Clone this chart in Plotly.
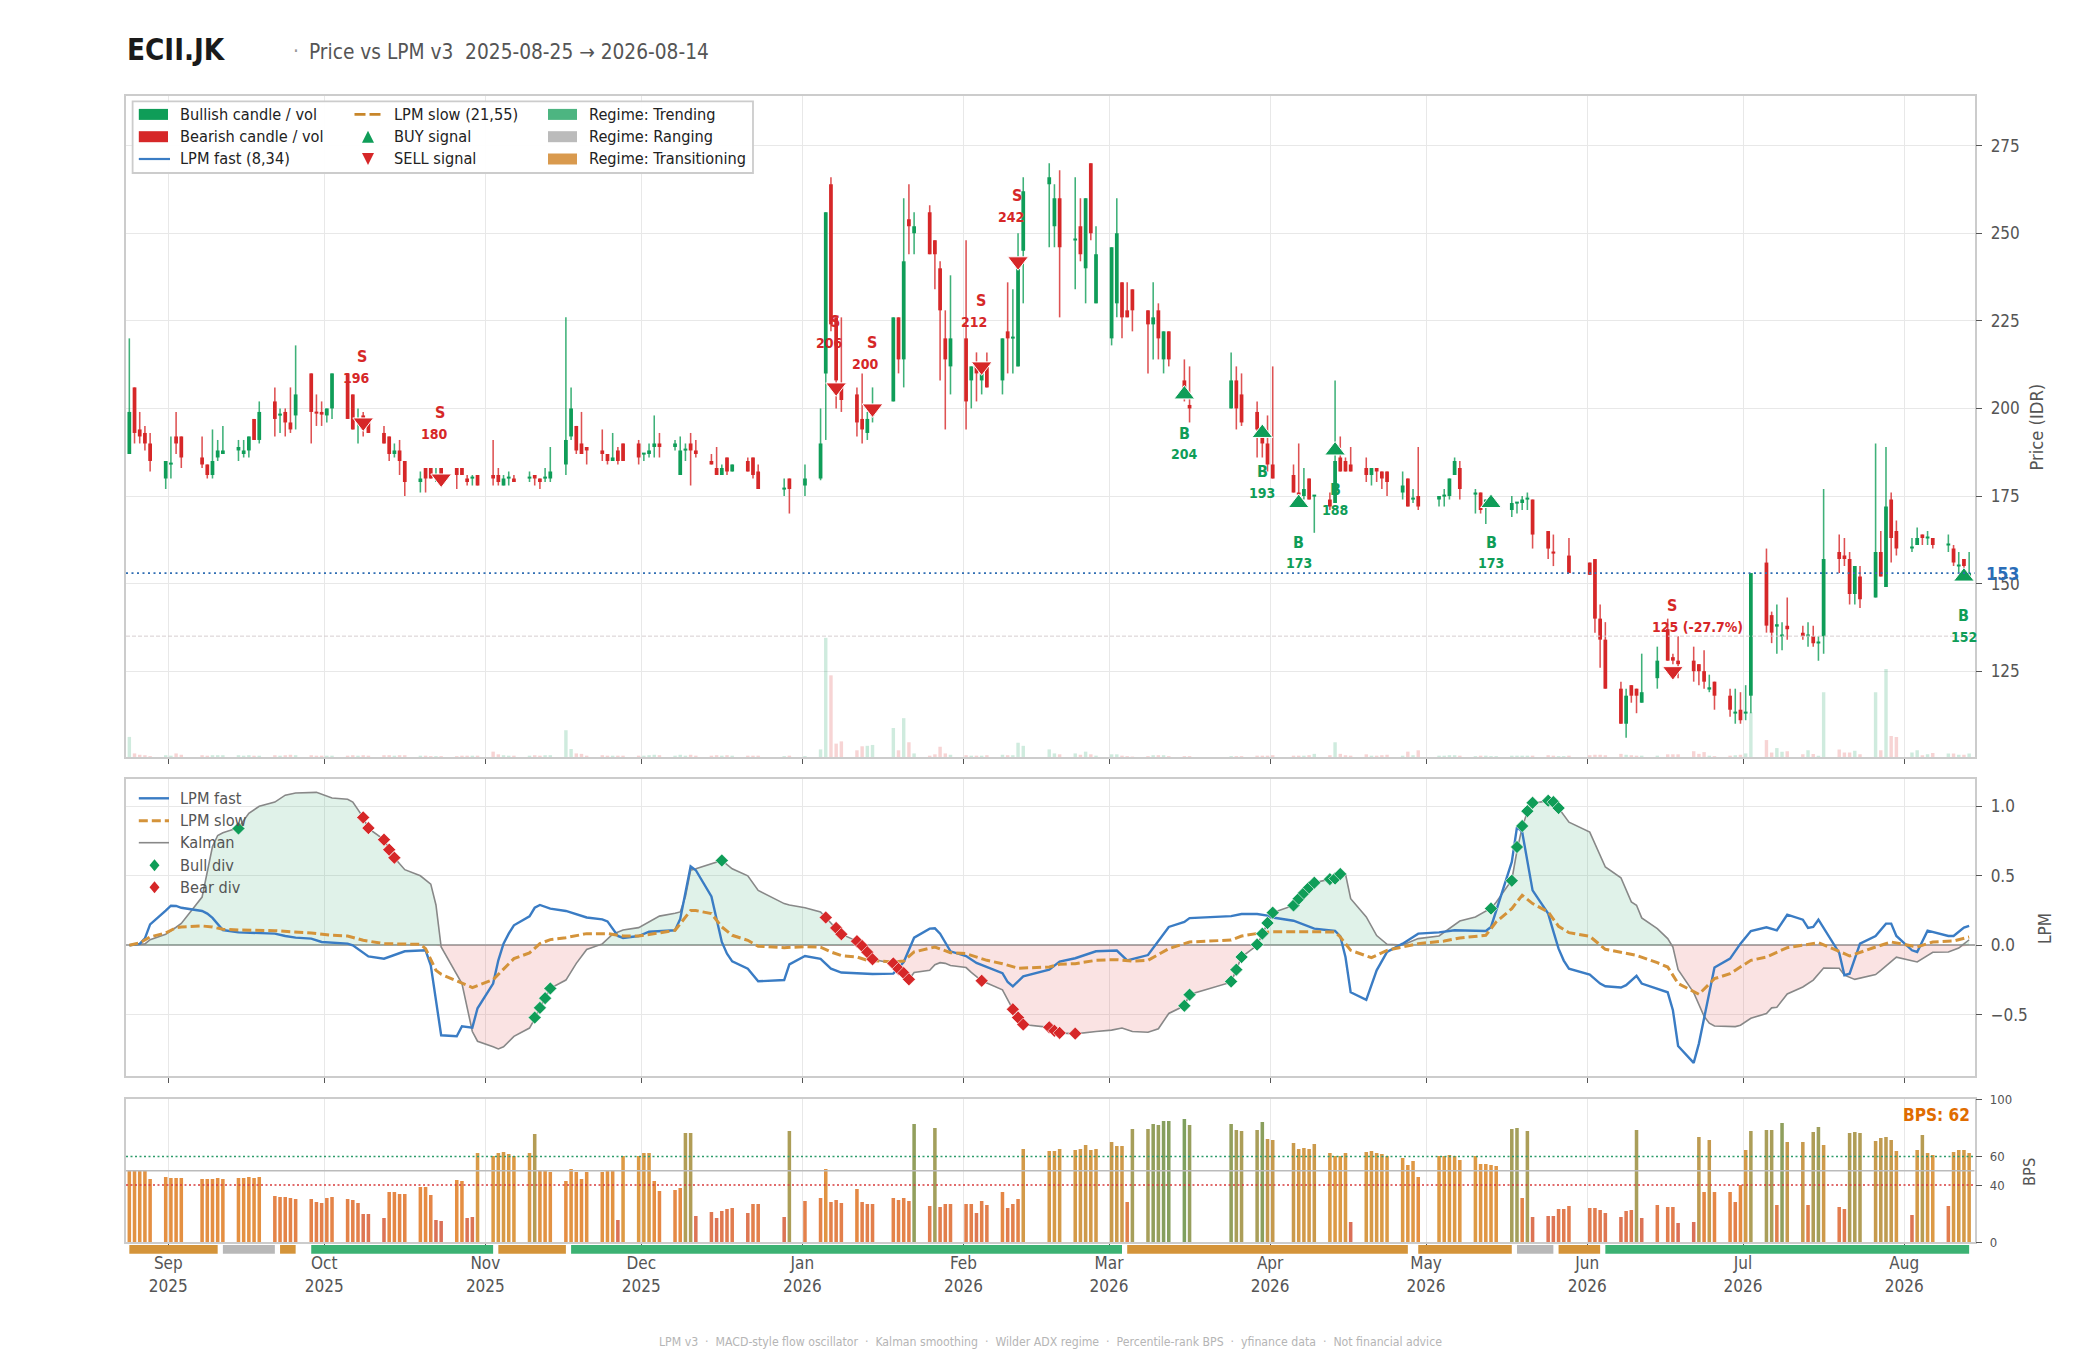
import numpy as np
import pandas as pd
import plotly.graph_objects as go

W, H = 2100, 1350
FONT = "DejaVu Sans Condensed"
GREEN = "#0f9d58"
RED = "#d62728"
BLUE = "#3a7cc4"
ORANGE = "#d4933a"
GRAY = "#888888"

# days the exchange was closed, everything else between start and end is a trading day
closed_days = ["2025-09-05", "2025-12-25", "2025-12-26", "2025-12-31", "2026-01-01", "2026-01-16",
               "2026-02-16", "2026-02-17", "2026-03-18", "2026-03-19", "2026-03-20", "2026-03-23",
               "2026-03-24", "2026-04-03", "2026-05-01", "2026-06-01", "2026-06-16"]

# one line per week
opens = [187,206,194,193,190, 180,184,192,192, 186,184,181,186,187, 188,187,188,197,191,
         202,198,199,196,198, 210,199,199,198,200, 210,204,196,198,196, 193,192,187,188,185,
         179,183,183,180,183, 183,183,180,180,181, 181,181,178,180,180, 180,181,180,180,180,
         184,192,195,190,189, 188,187,185,188,190, 190,187,187,189,190, 189,181,188,190,188,
         185,183,181,186,182, 185,186,182, 177,180,178, 180,210,264,226,206, 204,197,193,198,
         202,226,214,254,250, 256,248,240,220,212, 220,208,212,208,212, 208,222,220,212,245,
         264,252,260, 248,252,240,270,230, 220,230,236,228,234, 228,224,228,214,222, 208,201,
         200,208,204, 199,195,190,184, 181,176,175,180,175, 174,173,186,185,184, 183,181,183,182,182,
         176,180,174,175, 174,175,175,181,183, 175.5,176,172,173,173, 171,173,173,174,174,
         165,159,159,159,158, 156,157,140,134, 120,110,121,120,116, 123,137,129,128,
         128,127,125,120,122, 118,113,114,113,118, 156,141,138,135,138, 136,135,135,133,135,
         159,158,157,147,152, 146,159,149,174,165, 160,161,164,163,163, 161,160,155,157,152]
highs = [220,206,199,195,193, 185,192,199,192, 192,184,194,191,195, 191,191,192,197,202,
         206,200,200,206,218, 210,204,202,200,210, 210,204,200,199,197, 195,192,190,191,185,
         182,183,183,183,183, 183,183,181,181,181, 191,183,181,182,181, 182,181,180,183,189,
         226,206,195,199,189, 194,187,193,189,190, 191,187,190,198,193, 191,192,190,193,191,
         187,189,184,186,184, 186,186,184, 180,180,184, 200,256,266,226,226, 206,210,199,206,
         226,226,260,264,256, 258,248,242,228,238, 248,212,216,212,216, 220,236,234,250,266,
         270,264,268, 266,260,260,270,252, 246,260,236,236,234, 228,236,230,222,222, 214,212,
         216,212,210, 202,195,198,212, 184,190,183,180,175, 176,208,192,186,189, 186,183,183,182,182,
         182,180,177,189, 175,177,180,186,185, 177,176,174,173,173, 175,173,175,176,174,
         165,164,159,159,163, 156,157,144,139, 122,120,121,120,130, 132,140,130,135,
         132,127,131,124,122, 120,120,119,121,153, 160,142,144,139,146, 138,139,138,135,177,
         164,163,159,155,155, 190,165,189,176,168, 163,166,164,165,163, 164,161,159,157,159]
lows = [187,190,190,188,182, 177,180,187,183, 183,180,180,185,187, 185,186,186,191,190,
        192,193,192,193,194, 190,195,195,196,197, 197,194,190,192,193, 190,185,186,181,175,
        176,176,180,179,178, 177,181,178,178,178, 178,178,178,178,179, 179,178,177,179,179,
        181,191,187,187,184, 185,184,185,184,185, 184,185,186,186,186, 188,181,185,178,186,
        184,181,181,181,182, 182,180,177, 175,170,175, 179.5,191,222,200,199, 192,190,191,196,
        202,210,206,244,244, 244,234,208,194,204, 194,200,202,204,206, 204,210,210,212,230,
        246,246,226, 234,242,230,248,230, 218,226,220,226,222, 210,214,214,210,212, 202,196,
        200,194,195, 186,186,182,180, 176,175,174,174,164.5, 171,173,182,182,182, 179,178,179,177,175,
        174,172,173,171, 172,172,174,181,174, 170,170,167,173,173, 169,170,171,171,160,
        157,155,159,159,153, 152.5,136,126,120, 110,106,116,113,116, 120,128,127,123,
        122,121,120,119,114, 112,110,110,111,113, 136,133,130,131,134, 134,132,132,128,130,
        153,155,144,144,143, 146,152,149,156,158, 159,161,161,161,160, 159,155,153,153,152]
closes = [199,193,192,190,185, 185,184.3,190,186, 184,181,185,188,188, 189,188,192,191,199,
          197,198.3,196,194,204, 199,198.7,198.5,200,210, 197,194,197,194,193, 190,187,188,185,179,
          180,180,180,181,180, 181,181,179,180.4,178, 180,179,180,180.4,179, 180.4,180,179,180.4,182,
          191,200,188,187,188, 187,185,186,185,185, 186,187.3,188,190,189, 190,188,188.4,188,187,
          184,181,183,182,184, 182,181,177, 177.3,177,180, 190,256,224,208,202.4, 196,194,197,200,
          226,214,242,252,252, 244,244,228,214,220, 202,212,210,210,206, 220,220,220.4,242,262,
          266,260,246, 248.4,244,260,250,244, 246,250,226,226,228, 224,226,220,222,214, 204,200,
          208,200,196, 194,190,184,180, 176,175.6,177,174,175.3, 172,185,182,182,182, 181,183,182,180,179,
          178,172,174.4,172, 175,175.2,180,185,177, 176,171,174,173,173, 173,173.2,174,174.3,164,
          160,158.8,159,159,153, 152.5,140,134,120, 110,118,118,118,119, 128,128,128,127,
          125,125,122,120.4,118, 114,113.4,111,113.4,153, 138,136,138.4,135.4,137, 135,135.3,133,133.3,157,
          157,157,147,155,145.5, 159,152,172,163,160, 160.5,163,163,163.3,161, 161.3,156,155.3,155,153]
volumes = [45,8,5,4,2, 4,3,8,5, 4,3,4,4,4, 4,3,4,3,3, 4,3,4,5,4, 4,3,3,3,3, 3,4,3,4,3, 4,4,3,4,4,
           3,3,2,2,2, 2,3,3,3,3, 12,6,4,3,3, 3,4,3,4,4, 60,18,8,7,3, 4,3,3,3,3, 3,3,4,5,4, 3,5,3,5,3,
           3,4,3,4,3, 3,3,3, 2,3,2, 17,267,183,30,35, 15,24,25,27, 65,15,87,33,8, 3,6,23,8,5,
           4,3,3,3,4, 5,4,4,32,25, 17,8,6, 8,5,12,6,3, 6,6,3,2,1, 2,4,4,4,2, 2,2, 2,2,2, 3,3,3,4,
           3,3,3,4,7, 4,33,7,4,3, 6,3,3,4,5, 3,12,4,15, 3,3,4,4,3, 2,3,3,2,2, 3,3,3,3,3,
           4,3,2,2,3, 4,5,5,4, 7,5,4,3,3, 3,6,6,6, 13,7,11,3,2, 3,4,5,8,100, 38,10,20,12,13,
           6,15,7,3,145, 17,10,10,14,6, 145,15,197,47,45, 10,15,4,6,9, 8,8,5,5,8]
bps = [50.6,50.6,50.6,50.6,44.3, 45.7,45,45,45, 44.3,44.3,44.3,45,44.3, 45,45,45.7,45,45.7,
       32.4,31.7,31.7,31,30.3, 30.3,28.2,27.5,31,31.7, 30.3,29.6,27.5,19.8,19.8, 17,35.2,35.2,33.8,33.8,
       38.7,38.7,33.1,15.6,14.9, 43.6,42.9,17,17.7,62.5, 60.4,62.5,63.2,61.8,60.4, 62.5,75.8,50.6,49.9,49.2,
       42.9,51.3,49.2,44.3,49.2, 49.2,49.9,49.9,15.6,60.4, 60.4,62.5,62.5,42.9,35.9, 36.6,38,76.5,76.5,18.4,
       21.2,17,21.9,23.3,24, 20.5,26.8,26.8, 17.7,77.9,28.9, 31,51.3,28.2,29.6,27.5, 37.3,28.2,26.8,26.8,
       31,29.6,31,28.9,82.8, 25.4,80,24.7,26.8,26.8, 26.8,26.8,20.5,28.9,26.1, 35.2,24,26.8,30.3,65.3,
       63.9,63.9,65.3, 64.6,65.3,68,64.6,65.3, 70.2,67.4,67.4,28.2,79.3, 79.3,82.8,82,84.8,84.8, 86.2,82,
       82.8,78.6,77.9, 78.6,84.1,72.3,71.6, 69.5,65.3,66,65.3,68.8, 62.5,60.4,60.4,62.5,14.2, 63.2,63.9,62.5,61.8,60.4,
       59,54.1,56.9,45.7, 60.4,60.4,61,60.4,57.6, 60.4,54.8,54.8,54.1,53.4, 79.3,80,31,77.9,17.7,
       18.4,18.4,23.3,23.3,25.4, 24,24,22.6,20.5, 17.7,21.9,22.6,78.6,17, 26.1,24.7,24.7,13.5,
       14.2,73.7,35.2,71.6,35.2, 35.2,28.2,40.1,64.6,77.9, 78.6,78.6,26.1,83.4,70.2, 70.2,26.1,77.2,80.7,68,
       24.7,23.3,76.5,77.2,76.5, 70.9,73,73.7,71.6,63.9, 19.1,64.6,75.1,62.5,61, 25.4,63.2,64.6,64.6,62.5]

fast_dates = ["2025-08-25","2025-08-27","2025-08-28","2025-08-29","2025-09-01","2025-09-02","2025-09-03","2025-09-04","2025-09-08","2025-09-09","2025-09-10","2025-09-11","2025-09-12","2025-09-15","2025-09-19","2025-09-22","2025-09-24","2025-09-26","2025-09-29","2025-10-01","2025-10-06","2025-10-07","2025-10-10","2025-10-13","2025-10-17","2025-10-20","2025-10-21","2025-10-22","2025-10-23","2025-10-24","2025-10-27","2025-10-28","2025-10-30","2025-10-31","2025-11-03","2025-11-04","2025-11-05","2025-11-06","2025-11-07","2025-11-10","2025-11-11","2025-11-12","2025-11-14","2025-11-17","2025-11-21","2025-11-24","2025-11-25","2025-11-27","2025-11-28","2025-12-01","2025-12-03","2025-12-08","2025-12-09","2025-12-11","2025-12-12","2025-12-15","2025-12-17","2025-12-18","2025-12-19","2025-12-22","2025-12-24","2025-12-29","2025-12-30",
              "2026-01-02","2026-01-05","2026-01-07","2026-01-09","2026-01-15","2026-01-19","2026-01-21","2026-01-23","2026-01-26","2026-01-27","2026-01-28","2026-01-30","2026-02-02","2026-02-04","2026-02-09","2026-02-10","2026-02-11","2026-02-13","2026-02-18","2026-02-20","2026-02-23","2026-02-27","2026-03-03","2026-03-05","2026-03-09","2026-03-13","2026-03-16","2026-03-17","2026-03-25","2026-03-27","2026-03-30","2026-04-01","2026-04-02","2026-04-06","2026-04-09","2026-04-10","2026-04-14","2026-04-15","2026-04-16","2026-04-17","2026-04-20","2026-04-22","2026-04-24","2026-04-27","2026-04-30","2026-05-04","2026-05-07",
              "2026-05-11","2026-05-13","2026-05-14","2026-05-15","2026-05-18","2026-05-19","2026-05-20","2026-05-22","2026-05-25","2026-05-26","2026-05-27","2026-05-28","2026-05-29","2026-06-02","2026-06-04","2026-06-05","2026-06-08","2026-06-09","2026-06-11","2026-06-12","2026-06-17","2026-06-18","2026-06-19","2026-06-22","2026-06-23","2026-06-26","2026-06-29","2026-07-01","2026-07-03","2026-07-06","2026-07-08","2026-07-10","2026-07-13","2026-07-14","2026-07-15","2026-07-16","2026-07-20","2026-07-21","2026-07-22","2026-07-24","2026-07-27","2026-07-29","2026-07-30","2026-07-31","2026-08-03","2026-08-04","2026-08-06","2026-08-10","2026-08-11","2026-08-13","2026-08-14"]
fast_vals = [0,.01,.05,.15,.25,.285,.283,.27,.247,.228,.197,.156,.11,.093,.09,.084,.067,.055,.048,.024,.012,0,-.08,-.096,-.043,-.034,-.036,-.144,-.395,-.647,-.654,-.582,-.592,-.453,-.275,-.108,.012,.084,.144,.208,.27,.29,.264,.247,.2,.187,.172,.067,.053,.067,.098,.108,.19,.568,.54,.352,.024,-.06,-.115,-.168,-.259,-.25,-.137,
             -.077,-.098,-.168,-.196,-.206,-.204,-.12,.055,.12,.122,.084,-.043,-.077,-.127,-.2,-.264,-.295,-.223,-.175,-.117,-.093,-.043,-.038,-.108,-.07,.132,.168,.196,.21,.225,.225,.213,.2,.177,.132,.12,.103,.065,-.084,-.338,-.393,-.18,-.048,.012,.084,.093,.108,
             .105,.103,.132,.25,.6,.85,.815,.395,.228,.1,-.024,-.11,-.168,-.21,-.275,-.295,-.304,-.287,-.22,-.275,-.338,-.467,-.724,-.846,-.707,-.16,-.096,.012,.103,.13,.108,.22,.184,.125,.132,.184,-.055,-.215,-.204,.012,.067,.156,.156,.067,-.036,-.048,.105,.067,.067,.127,.14]

slow_dates = ["2025-08-25","2025-08-27","2025-08-29","2025-09-01","2025-09-03","2025-09-04","2025-09-08","2025-09-10","2025-09-12","2025-09-15","2025-09-22","2025-09-29","2025-10-03","2025-10-06","2025-10-09","2025-10-13","2025-10-20","2025-10-21","2025-10-23","2025-10-24","2025-10-27","2025-10-30","2025-11-03","2025-11-05","2025-11-07","2025-11-10","2025-11-12","2025-11-14","2025-11-17","2025-11-21","2025-11-25","2025-11-28","2025-12-01","2025-12-05","2025-12-08","2025-12-11","2025-12-12","2025-12-15","2025-12-17","2025-12-19","2025-12-22","2025-12-24","2025-12-29",
              "2026-01-02","2026-01-05","2026-01-07","2026-01-09","2026-01-12","2026-01-14","2026-01-19","2026-01-21","2026-01-23","2026-01-27","2026-01-30","2026-02-02","2026-02-06","2026-02-09","2026-02-12","2026-02-18","2026-02-20","2026-02-23","2026-02-27","2026-03-03","2026-03-06","2026-03-09","2026-03-13","2026-03-17","2026-03-25","2026-03-27","2026-03-31","2026-04-02","2026-04-07","2026-04-14","2026-04-15","2026-04-17","2026-04-21","2026-04-24","2026-04-30","2026-05-05","2026-05-08","2026-05-13","2026-05-15","2026-05-18","2026-05-20","2026-05-22","2026-05-25","2026-05-27","2026-05-29","2026-06-02","2026-06-05","2026-06-08","2026-06-11","2026-06-15","2026-06-17","2026-06-19","2026-06-23","2026-06-26","2026-06-29","2026-07-03","2026-07-06","2026-07-10","2026-07-16","2026-07-21","2026-07-22","2026-07-27","2026-07-30","2026-08-04","2026-08-07","2026-08-11","2026-08-14"]
slow_vals = [0,.017,.06,.089,.127,.132,.139,.132,.115,.11,.105,.089,.072,.067,.036,.012,.007,-.024,-.18,-.208,-.256,-.304,-.247,-.168,-.096,-.055,.012,.041,.055,.084,.084,.067,.067,.089,.108,.25,.25,.228,.132,.072,.036,-.007,-.017,
             -.01,-.014,-.048,-.074,-.084,-.108,-.12,-.113,-.048,-.012,-.053,-.06,-.108,-.132,-.165,-.156,-.137,-.132,-.108,-.103,-.113,-.108,-.024,.024,.038,.067,.091,.098,.098,.096,.06,-.036,-.089,-.036,.012,.031,.053,.072,.168,.264,.36,.3,.24,.137,.091,.065,-.029,-.048,-.072,-.125,-.156,-.275,-.352,-.24,-.204,-.108,-.084,-.017,.019,-.06,-.077,-.012,.024,-.012,.024,.031,.06]

kalman_dates = ["2025-08-25","2025-08-28","2025-08-29","2025-09-01","2025-09-03","2025-09-04","2025-09-08","2025-09-09","2025-09-10","2025-09-11","2025-09-12","2025-09-15","2025-09-16","2025-09-17","2025-09-19","2025-09-22","2025-09-24","2025-09-26","2025-09-30","2025-10-03","2025-10-06","2025-10-07","2025-10-09","2025-10-10","2025-10-13","2025-10-14","2025-10-15","2025-10-17","2025-10-20","2025-10-22","2025-10-23","2025-10-24","2025-10-27","2025-10-28","2025-10-30","2025-10-31","2025-11-03","2025-11-04","2025-11-05","2025-11-07","2025-11-10","2025-11-11","2025-11-12","2025-11-13","2025-11-14","2025-11-17","2025-11-19","2025-11-21","2025-11-24","2025-11-26","2025-11-28","2025-12-01","2025-12-05","2025-12-08","2025-12-09","2025-12-10","2025-12-11","2025-12-12","2025-12-17","2025-12-19","2025-12-22","2025-12-24","2025-12-29","2025-12-30",
                "2026-01-02","2026-01-05","2026-01-06","2026-01-08","2026-01-09","2026-01-12","2026-01-13","2026-01-14","2026-01-15","2026-01-19","2026-01-20","2026-01-21","2026-01-22","2026-01-23","2026-01-26","2026-01-27","2026-01-28","2026-01-29","2026-01-30","2026-02-02","2026-02-03","2026-02-05","2026-02-09","2026-02-11","2026-02-12","2026-02-13","2026-02-18","2026-02-19","2026-02-20","2026-02-23","2026-02-27","2026-03-02","2026-03-04","2026-03-05","2026-03-06","2026-03-09","2026-03-10","2026-03-11","2026-03-13","2026-03-16","2026-03-17","2026-03-25","2026-03-26","2026-03-27","2026-03-30","2026-03-31","2026-04-01","2026-04-02","2026-04-06","2026-04-07","2026-04-08","2026-04-09","2026-04-10","2026-04-13","2026-04-14","2026-04-15","2026-04-16","2026-04-17","2026-04-20","2026-04-22","2026-04-24","2026-04-27","2026-04-30","2026-05-04","2026-05-08",
                "2026-05-11","2026-05-13","2026-05-14","2026-05-15","2026-05-18","2026-05-19","2026-05-20","2026-05-21","2026-05-22","2026-05-25","2026-05-26","2026-05-27","2026-05-29","2026-06-02","2026-06-05","2026-06-08","2026-06-10","2026-06-11","2026-06-12","2026-06-15","2026-06-17","2026-06-18","2026-06-19","2026-06-22","2026-06-24","2026-06-25","2026-06-26","2026-06-30","2026-07-01","2026-07-03","2026-07-06","2026-07-07","2026-07-08","2026-07-10","2026-07-13","2026-07-15","2026-07-17","2026-07-20","2026-07-21","2026-07-23","2026-07-27","2026-07-28","2026-07-31","2026-08-04","2026-08-07","2026-08-10","2026-08-12","2026-08-14"]
kalman_vals = [0,.01,.04,.08,.13,.157,.347,.54,.71,.79,.81,.846,.9,.95,1.0,1.03,1.08,1.095,1.1,1.06,1.05,1.03,.92,.84,.76,.69,.63,.544,.5,.44,.29,-.012,-.205,-.275,-.62,-.69,-.73,-.745,-.73,-.655,-.595,-.53,-.45,-.38,-.31,-.25,-.13,-.03,.01,.08,.11,.127,.21,.23,.24,.35,.54,.55,.61,.55,.5,.395,.3,.29,
               .27,.24,.2,.125,.08,.03,-.005,-.05,-.1,-.13,-.17,-.2,-.245,-.195,-.18,-.14,-.125,-.13,-.145,-.16,-.195,-.255,-.32,-.46,-.52,-.57,-.59,-.62,-.63,-.637,-.62,-.61,-.595,-.61,-.62,-.625,-.61,-.6,-.49,-.435,-.353,-.265,-.175,-.084,0,.084,.16,.235,.287,.335,.376,.416,.45,.476,.48,.513,.513,.335,.204,.07,.007,.002,.048,.067,.175,
               .204,.25,.267,.31,.47,.68,.85,.96,1.02,1.04,1.02,.987,.886,.814,.563,.486,.312,.288,.197,.12,.048,-.012,-.175,-.34,-.51,-.56,-.58,-.585,-.575,-.525,-.49,-.45,-.445,-.35,-.3,-.25,-.163,-.165,-.215,-.245,-.21,-.18,-.085,-.12,-.05,-.048,-.02,.04]

bull_div_dates = ["2025-09-15","2025-11-11","2025-11-12","2025-11-13","2025-11-14","2025-12-17","2026-03-16","2026-03-17","2026-03-25","2026-03-26","2026-03-27","2026-03-30","2026-03-31","2026-04-01","2026-04-02","2026-04-06","2026-04-07","2026-04-08","2026-04-09","2026-04-10","2026-04-13","2026-04-14","2026-04-15","2026-05-14","2026-05-18","2026-05-19","2026-05-20","2026-05-21","2026-05-22","2026-05-25","2026-05-26","2026-05-27"]
bull_div_vals = [.84,-.52,-.45,-.38,-.31,.61,-.435,-.355,-.26,-.175,-.084,.005,.084,.16,.235,.287,.335,.376,.416,.45,.476,.48,.513,.264,.465,.707,.858,.965,1.025,1.04,1.03,.987]
bear_div_dates = ["2025-10-09","2025-10-10","2025-10-13","2025-10-14","2025-10-15","2026-01-06","2026-01-08","2026-01-09","2026-01-12","2026-01-13","2026-01-14","2026-01-15","2026-01-19","2026-01-20","2026-01-21","2026-01-22","2026-02-05","2026-02-11","2026-02-12","2026-02-13","2026-02-18","2026-02-19","2026-02-20","2026-02-23"]
bear_div_vals = [.92,.843,.76,.688,.63,.2,.125,.08,.03,-.005,-.05,-.1,-.13,-.17,-.2,-.245,-.255,-.46,-.52,-.57,-.59,-.615,-.63,-.635]

sell_dates = ["2025-10-09","2025-10-24","2026-01-08","2026-01-15","2026-02-05","2026-02-12","2026-06-18"]
sell_prices = [196,180,206,200,212,242,125]
sell_labels = ["196","180","206","200","212","242","125 (-27.7%)"]
buy_dates = ["2026-03-16","2026-03-31","2026-04-07","2026-04-14","2026-05-14","2026-08-13"]
buy_prices = [204,193,173,188,173,152]

regime_starts = ["2025-08-25","2025-09-12","2025-09-23","2025-09-29","2025-11-04","2025-11-18","2026-03-05","2026-04-30","2026-05-19","2026-05-27","2026-06-05"]
regime_ends = ["2025-09-11","2025-09-22","2025-09-26","2025-11-03","2025-11-17","2026-03-04","2026-04-28","2026-05-18","2026-05-26","2026-06-04","2026-08-14"]
regime_names = ["Transitioning","Ranging","Transitioning","Trending","Transitioning","Trending","Transitioning","Transitioning","Ranging","Transitioning","Trending"]
regime_colors = {"Trending": "#3cb273", "Ranging": "#b8b8b8", "Transitioning": "#d4943a"}

month_ticks = ["2025-09-01","2025-10-01","2025-11-01","2025-12-01","2026-01-01","2026-02-01","2026-03-01","2026-04-01","2026-05-01","2026-06-01","2026-07-01","2026-08-01"]
month_labels = ["Sep<br>2025","Oct<br>2025","Nov<br>2025","Dec<br>2025","Jan<br>2026","Feb<br>2026","Mar<br>2026","Apr<br>2026","May<br>2026","Jun<br>2026","Jul<br>2026","Aug<br>2026"]
price_ticks = [125,150,175,200,225,250,275]
lpm_ticks = [-0.5,0,0.5,1.0]
bps_ticks = [0,40,60,100]
last_price = 153
stop_level = 135
last_bps = 62


def px(x):
    return x / W


def py(y):
    return 1 - y / H


def shifted(day_list):
    # candles sit half a day left of the month ticks, local midnight in the source data
    out = pd.to_datetime(day_list) - pd.Timedelta(hours=12)
    return [d.strftime("%Y-%m-%d %H:%M") for d in out]


trading_days = pd.bdate_range("2025-08-25", "2026-08-14")
trading_days = trading_days[~trading_days.isin(pd.to_datetime(closed_days))]
x_days = shifted(trading_days)
x_arr = np.array(x_days)
o, h, l, c = [np.array(a, dtype=float) for a in (opens, highs, lows, closes)]
up = (c >= o) & (h > l)
down = (c < o) & (h > l)
body_low = np.minimum(o, c)
body_height = np.maximum(np.abs(c - o), 0.35)

DAY_MS = 86400000
fig = go.Figure()

# volume behind everything
vol_colors = ["rgba(15,157,88,0.2)" if u else "rgba(214,39,40,0.2)" for u in (c >= o)]
fig.add_trace(go.Bar(x=x_days, y=volumes, width=0.66 * DAY_MS, marker=dict(color=vol_colors, line_width=0),
                     xaxis="x", yaxis="y4", showlegend=False))

for mask, color, wick in [(up, GREEN, "rgba(15,157,88,0.8)"), (down, RED, "rgba(214,39,40,0.8)")]:
    fig.add_trace(go.Bar(x=x_arr[mask].tolist(), y=(h - l)[mask].tolist(), base=l[mask].tolist(),
                         width=0.3 * DAY_MS, marker=dict(color=wick, line_width=0), xaxis="x", yaxis="y", showlegend=False))
    fig.add_trace(go.Bar(x=x_arr[mask].tolist(), y=body_height[mask].tolist(), base=body_low[mask].tolist(),
                         width=0.72 * DAY_MS, marker=dict(color=color, line_width=0), xaxis="x", yaxis="y", showlegend=False))

fig.add_trace(go.Scatter(x=shifted(buy_dates), y=buy_prices, mode="markers", xaxis="x", yaxis="y", showlegend=False,
                         marker=dict(symbol="triangle-up", size=18, color=GREEN, line=dict(color="white", width=1))))
fig.add_trace(go.Scatter(x=shifted(sell_dates), y=sell_prices, mode="markers", xaxis="x", yaxis="y", showlegend=False,
                         marker=dict(symbol="triangle-down", size=18, color=RED, line=dict(color="white", width=1))))

# LPM panel
k = np.array(kalman_vals)
x_kal = shifted(kalman_dates)
fig.add_trace(go.Scatter(x=x_kal, y=np.maximum(k, 0).tolist(), mode="lines", line=dict(width=0), fill="tozeroy",
                         fillcolor="rgba(15,157,88,0.13)", xaxis="x2", yaxis="y2", showlegend=False))
fig.add_trace(go.Scatter(x=x_kal, y=np.minimum(k, 0).tolist(), mode="lines", line=dict(width=0), fill="tozeroy",
                         fillcolor="rgba(214,39,40,0.13)", xaxis="x2", yaxis="y2", showlegend=False))
fig.add_trace(go.Scatter(x=x_kal, y=kalman_vals, mode="lines", line=dict(color=GRAY, width=1.6), xaxis="x2", yaxis="y2", showlegend=False))
fig.add_trace(go.Scatter(x=shifted(fast_dates), y=fast_vals, mode="lines", line=dict(color=BLUE, width=2.4), xaxis="x2", yaxis="y2", showlegend=False))
fig.add_trace(go.Scatter(x=shifted(slow_dates), y=slow_vals, mode="lines", line=dict(color=ORANGE, width=3, dash="9px,4px"), xaxis="x2", yaxis="y2", showlegend=False))
fig.add_trace(go.Scatter(x=shifted(bull_div_dates), y=bull_div_vals, mode="markers", xaxis="x2", yaxis="y2", showlegend=False,
                         marker=dict(symbol="diamond", size=10, color=GREEN, line=dict(color="white", width=0.6))))
fig.add_trace(go.Scatter(x=shifted(bear_div_dates), y=bear_div_vals, mode="markers", xaxis="x2", yaxis="y2", showlegend=False,
                         marker=dict(symbol="diamond", size=10, color=RED, line=dict(color="white", width=0.6))))

# BPS panel
fig.add_trace(go.Bar(x=x_days, y=bps, width=0.68 * DAY_MS, xaxis="x3", yaxis="y3", showlegend=False,
                     marker=dict(color=bps, cmin=0, cmax=100, line_width=0,
                                 colorscale=[[0, "#d9634f"], [.15, "#da7058"], [.25, "#e27d4e"], [.4, "#e68c41"],
                                             [.6, "#de9a45"], [.72, "#c49a4e"], [.8, "#a39f5c"], [.86, "#7f9f5e"], [1, "#5aa05e"]])))

shapes = []
annotations = []


def add_text(x, y, text, size, color, anchor="left", bold=False, angle=0):
    if bold:
        text = "<b>" + text + "</b>"
    # annotations carry a little padding of their own
    nudge = {"left": -2.5, "right": 2.5, "center": 0}[anchor]
    annotations.append(dict(x=px(x + nudge), y=py(y), xref="paper", yref="paper", text=text, showarrow=False, xanchor=anchor,
                            yanchor="middle", textangle=angle, font=dict(family=FONT, size=size, color=color)))


def level_line(yval, yref, color, width, dash):
    shapes.append(dict(type="line", xref="x domain", yref=yref, x0=0, x1=1, y0=yval, y1=yval,
                       line=dict(color=color, width=width, dash=dash)))


level_line(last_price, "y", "#2f6db3", 1.8, "2px,3.5px")
level_line(stop_level, "y", "#d6ced0", 1, "4px,2px")
level_line(50, "y3", "#bbbbbb", 1.4, "solid")
level_line(60, "y3", "#2e9c6b", 1.5, "2px,2.5px")
level_line(40, "y3", "#d83b3b", 1.5, "2px,2.5px")

# regime strip under the BPS panel
for start, end, name in zip(shifted(regime_starts), shifted(regime_ends), regime_names):
    shapes.append(dict(type="rect", xref="x3", yref="paper", x0=start, x1=end, y0=py(1253.7), y1=py(1245),
                       fillcolor=regime_colors[name], line_width=0))

# signal labels
for d, p, lab in zip(shifted(sell_dates), sell_prices, sell_labels):
    annotations.append(dict(x=d, y=p, xref="x", yref="y", text="<b>S</b>", showarrow=False, yshift=65.6, xshift=-1,
                            font=dict(family=FONT, size=16, color=RED)))
    annotations.append(dict(x=d, y=p, xref="x", yref="y", text="<b>" + lab + "</b>", showarrow=False, yshift=44, xshift=-22.5,
                            xanchor="left", font=dict(family=FONT, size=14, color=RED)))
for d, p in zip(shifted(buy_dates), buy_prices):
    annotations.append(dict(x=d, y=p, xref="x", yref="y", text="<b>B</b>", showarrow=False, yshift=-39,
                            font=dict(family=FONT, size=16, color=GREEN)))
    annotations.append(dict(x=d, y=p, xref="x", yref="y", text="<b>%d</b>" % p, showarrow=False, yshift=-60,
                            font=dict(family=FONT, size=14, color=GREEN)))

# legend of the price panel, drawn by hand for the three column layout
shapes.append(dict(type="rect", xref="paper", yref="paper", x0=px(132.6), x1=px(753), y0=py(173), y1=py(101.4),
                   fillcolor="rgba(255,255,255,0.92)", line=dict(color="#cccccc", width=1.8)))
rows = [114.4, 136.7, 159]


def swatch(x0, x1, yc, color):
    shapes.append(dict(type="rect", xref="paper", yref="paper", x0=px(x0), x1=px(x1), y0=py(yc + 5.5), y1=py(yc - 5.5),
                       fillcolor=color, line_width=0))


def key_line(x0, x1, yc, color, width, dash="solid"):
    shapes.append(dict(type="line", xref="paper", yref="paper", x0=px(x0), x1=px(x1), y0=py(yc), y1=py(yc),
                       line=dict(color=color, width=width, dash=dash)))


def key_poly(points, color):
    path = "M " + " L ".join("%.5f,%.5f" % (px(a), py(b)) for a, b in points) + " Z"
    shapes.append(dict(type="path", xref="paper", yref="paper", path=path, fillcolor=color, line_width=0))


LEG = 16.2
swatch(138.8, 168, rows[0], GREEN)
swatch(138.8, 168, rows[1], RED)
key_line(138.8, 170, rows[2], BLUE, 2.2)
add_text(180.4, rows[0], "Bullish candle / vol", LEG, "#222222")
add_text(180.4, rows[1], "Bearish candle / vol", LEG, "#222222")
add_text(180.4, rows[2], "LPM fast (8,34)", LEG, "#222222")

key_line(354.5, 383, rows[0], "#c8862a", 2.6, "11px,4px")
key_poly([(368, rows[1] - 6), (362, rows[1] + 6), (374, rows[1] + 6)], GREEN)
key_poly([(368, rows[2] + 6), (362, rows[2] - 6), (374, rows[2] - 6)], RED)
add_text(394.6, rows[0], "LPM slow (21,55)", LEG, "#222222")
add_text(394.6, rows[1], "BUY signal", LEG, "#222222")
add_text(394.6, rows[2], "SELL signal", LEG, "#222222")

swatch(548, 577, rows[0], "#4db581")
swatch(548, 577, rows[1], "#bbbbbb")
swatch(548, 577, rows[2], "#d99a4e")
add_text(589.7, rows[0], "Regime: Trending", LEG, "#222222")
add_text(589.7, rows[1], "Regime: Ranging", LEG, "#222222")
add_text(589.7, rows[2], "Regime: Transitioning", LEG, "#222222")

# legend of the LPM panel, no frame
lpm_rows = [798.3, 820.7, 842.7, 865.3, 887.3]
key_line(138.8, 169, lpm_rows[0], BLUE, 2.4)
key_line(138.8, 169, lpm_rows[1], ORANGE, 3, "9px,4px")
key_line(138.8, 169, lpm_rows[2], GRAY, 1.6)
key_poly([(154.5, lpm_rows[3] - 6), (149.5, lpm_rows[3]), (154.5, lpm_rows[3] + 6), (159.5, lpm_rows[3])], GREEN)
key_poly([(154.5, lpm_rows[4] - 6), (149.5, lpm_rows[4]), (154.5, lpm_rows[4] + 6), (159.5, lpm_rows[4])], RED)
for yc, name in zip(lpm_rows, ["LPM fast", "LPM slow", "Kalman", "Bull div", "Bear div"]):
    add_text(180.4, yc, name, LEG, "#555555")

# titles and side labels
add_text(127, 50, "ECII.JK", 29.3, "#1a1a1a", bold=True)
add_text(293, 51, "·", 20.7, "#999999")
add_text(309, 51.7, "Price vs LPM v3  2025-08-25 → 2026-08-14", 20.7, "#555555")
add_text(2002, 574, "153", 17.8, "#2a6db8", anchor="center", bold=True)
add_text(1969, 1115, "BPS: %d" % last_bps, 17.1, "#e06c00", anchor="right", bold=True)
add_text(2035.5, 427, "Price (IDR)", 18.2, "#555555", anchor="center", angle=-90)
add_text(2045, 929, "LPM", 17, "#555555", anchor="center", angle=-90)
add_text(2029, 1172, "BPS", 16.3, "#555555", anchor="center", angle=-90)
add_text(1050, 1342, "LPM v3  ·  MACD-style flow oscillator  ·  Kalman smoothing  ·  Wilder ADX regime  ·  Percentile-rank BPS  ·  yfinance data  ·  Not financial advice",
         12.2, "#b5b5b5", anchor="center")

x_range = ["2025-08-23 20:38", "2026-08-14 12:43"]
x_domain = [px(126), px(1974.5)]
common_x = dict(type="date", range=x_range, domain=x_domain, tickmode="array", tickvals=month_ticks, showgrid=True,
                gridcolor="#e8e8e8", gridwidth=1, ticks="outside", ticklen=5, tickwidth=1.4, tickcolor="#555555",
                showline=True, mirror=True, linecolor="#cccccc", linewidth=1.5, zeroline=False, automargin=False)
common_y = dict(side="right", ticks="outside", ticklen=6, tickwidth=1.4, tickcolor="#555555", showline=True, mirror=True,
                linecolor="#cccccc", linewidth=1.5, gridcolor="#e8e8e8", gridwidth=1, automargin=False, ticklabelstandoff=5,
                tickfont=dict(family=FONT, size=17, color="#555555"))

fig.update_layout(
    width=W, height=H, autosize=False, margin=dict(l=0, r=0, t=0, b=0, autoexpand=False), paper_bgcolor="white", plot_bgcolor="white",
    barmode="overlay", hovermode=False, showlegend=False, font=dict(family=FONT),
    shapes=shapes, annotations=annotations,
    xaxis=dict(common_x, anchor="y", showticklabels=False),
    xaxis2=dict(common_x, anchor="y2", showticklabels=False),
    xaxis3=dict(common_x, anchor="y3", ticktext=month_labels, ticklabelstandoff=0,
                tickfont=dict(family=FONT, size=17, color="#555555")),
    yaxis=dict(common_y, anchor="x", domain=[py(757), py(95.6)], range=[100.5, 289.3], tickmode="array", tickvals=price_ticks, zeroline=False),
    yaxis4=dict(overlaying="y", side="left", range=[0, 1482], visible=False, automargin=False),
    yaxis2=dict(common_y, anchor="x2", domain=[py(1076), py(779.3)], range=[-0.94, 1.194], tickmode="array", tickvals=lpm_ticks,
                tickformat=".1f", zeroline=True, zerolinecolor="#aaaaaa", zerolinewidth=2),
    yaxis3=dict(common_y, anchor="x3", domain=[py(1242.3), py(1099.3)], range=[0, 100], tickmode="array", tickvals=bps_ticks,
                showgrid=False, zeroline=False, tickfont=dict(family=FONT, size=13, color="#555555")),
)

# browsers give the body a default margin, that would push the figure off by 8px
fig.write_html("out.html", config={"displayModeBar": False}, post_script="document.body.style.margin = '0';")
